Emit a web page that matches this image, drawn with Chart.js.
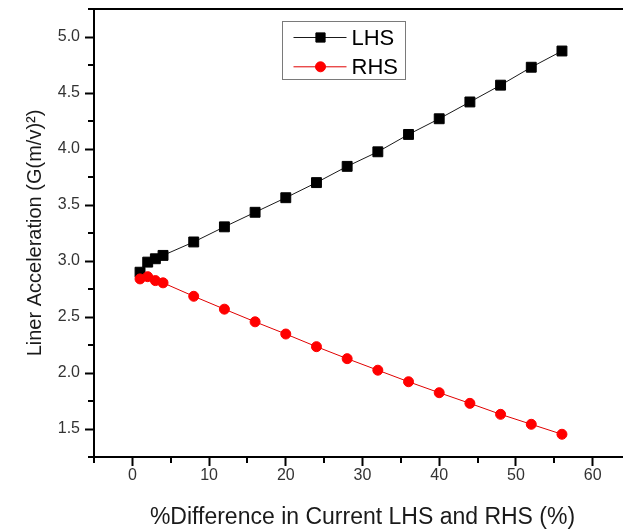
<!DOCTYPE html>
<html>
<head>
<meta charset="utf-8">
<script src="https://cdn.jsdelivr.net/npm/chart.js@4.4.1/dist/chart.umd.min.js"></script>
<style>
  html, body { margin: 0; padding: 0; background: #fff; overflow: hidden; width: 623px; height: 531px; }
  #wrap { position: relative; width: 631px; height: 531px; }
</style>
</head>
<body>
<div id="wrap"><canvas id="chart" width="631" height="531"></canvas></div>
<script>
// Current difference between the two sides (%)
const diffPercent = [1, 2, 3, 4, 8, 12, 16, 20, 24, 28, 32, 36, 40, 44, 48, 52, 56];
// Liner acceleration, left-hand side
const lhsAccel = [2.90, 2.99, 3.02, 3.05, 3.17, 3.305, 3.435, 3.565, 3.70, 3.845, 3.975, 4.13, 4.27, 4.42, 4.57, 4.73, 4.875];
// Liner acceleration, right-hand side
const rhsAccel = [2.84, 2.86, 2.825, 2.805, 2.685, 2.57, 2.457, 2.348, 2.235, 2.128, 2.025, 1.922, 1.824, 1.729, 1.631, 1.542, 1.453];

// Axis ticks
const xMajorTicks = [0, 10, 20, 30, 40, 50, 60];
const xMinorTicks = [-5, 5, 15, 25, 35, 45, 55, 65];
const yMajorTicks = [1.5, 2.0, 2.5, 3.0, 3.5, 4.0, 4.5, 5.0];
const yMinorTicks = [1.25, 1.75, 2.25, 2.75, 3.25, 3.75, 4.25, 4.75, 5.25];

const seriesNames = ['LHS', 'RHS'];
const FONT = "'Liberation Sans', Arial, sans-serif";

const toPoints = (ys) => diffPercent.map((x, i) => ({ x: x, y: ys[i] }));

// Minor tick marks and the top frame line
const framePlugin = {
  id: 'frame',
  afterDraw(chart) {
    const { ctx, chartArea, scales } = chart;
    ctx.save();
    ctx.strokeStyle = '#000';
    ctx.lineWidth = 2;
    ctx.beginPath();
    ctx.moveTo(chartArea.left - 6, chartArea.top);
    ctx.lineTo(chartArea.right, chartArea.top);
    ctx.stroke();
    ctx.beginPath();
    xMinorTicks.forEach(v => {
      const px = Math.round(scales.x.getPixelForValue(v));
      ctx.moveTo(px, chartArea.bottom);
      ctx.lineTo(px, chartArea.bottom + 6);
    });
    yMinorTicks.forEach(v => {
      const py = Math.round(scales.y.getPixelForValue(v));
      ctx.moveTo(chartArea.left, py);
      ctx.lineTo(chartArea.left - 6, py);
    });
    ctx.stroke();
    ctx.restore();
  }
};

// Boxed legend showing line + marker for each series
const boxLegendPlugin = {
  id: 'boxLegend',
  afterDatasetsDraw(chart) {
    const { ctx } = chart;
    const box = { left: 282.5, top: 21.5, width: 123, height: 58 };
    ctx.save();
    ctx.fillStyle = '#fff';
    ctx.fillRect(box.left, box.top, box.width, box.height);
    ctx.strokeStyle = '#7a7a7a';
    ctx.lineWidth = 1;
    ctx.strokeRect(box.left, box.top, box.width, box.height);
    seriesNames.forEach((name, i) => {
      const ds = chart.data.datasets.find(d => d.label === name);
      const y = box.top + 16 + i * 29.3;
      ctx.strokeStyle = ds.borderColor;
      ctx.lineWidth = 1;
      ctx.beginPath();
      ctx.moveTo(box.left + 11, y);
      ctx.lineTo(box.left + 64, y);
      ctx.stroke();
      ctx.fillStyle = ds.pointBackgroundColor;
      ctx.strokeStyle = ds.pointBorderColor;
      ctx.lineWidth = 1;
      Chart.helpers.drawPoint(ctx, {
        pointStyle: ds.pointStyle,
        radius: ds.pointStyle === 'rect' ? 6.5 : 5,
        borderWidth: 1,
        rotation: 0
      }, box.left + 38, y);
      ctx.fillStyle = '#000';
      ctx.font = '22px ' + FONT;
      ctx.textAlign = 'left';
      ctx.textBaseline = 'middle';
      ctx.fillText(name, box.left + 69, y + 1);
    });
    ctx.restore();
  }
};

new Chart(document.getElementById('chart'), {
  type: 'scatter',
  data: {
    datasets: [
      {
        label: seriesNames[0],
        data: toPoints(lhsAccel),
        showLine: true,
        borderColor: '#1a1a1a',
        borderWidth: 1,
        pointStyle: 'rect',
        pointRadius: 7,
        pointHoverRadius: 7,
        pointBackgroundColor: '#000',
        pointBorderColor: '#000',
        pointBorderWidth: 1,
        order: 1
      },
      {
        label: seriesNames[1],
        data: toPoints(rhsAccel),
        showLine: true,
        borderColor: '#e00000',
        borderWidth: 1,
        pointStyle: 'circle',
        pointRadius: 5,
        pointHoverRadius: 5,
        pointBackgroundColor: '#ff0000',
        pointBorderColor: '#ff0000',
        pointBorderWidth: 1,
        order: 0
      }
    ]
  },
  options: {
    responsive: false,
    maintainAspectRatio: false,
    animation: false,
    events: [],
    layout: { autoPadding: false, padding: { top: 9, left: 0, right: 0, bottom: 0 } },
    plugins: {
      legend: { display: false },
      tooltip: { enabled: false }
    },
    scales: {
      x: {
        type: 'linear',
        position: 'bottom',
        min: -5,
        max: 65,
        afterBuildTicks: (scale) => { scale.ticks = xMajorTicks.map(v => ({ value: v })); },
        afterFit: (scale) => { scale.height = 74; scale.paddingLeft = 0; scale.paddingRight = 0; },
        grid: { drawOnChartArea: false, drawTicks: true, tickLength: 9, tickWidth: 2, tickColor: '#000' },
        border: { display: true, color: '#000', width: 2 },
        ticks: {
          padding: 0,
          color: '#333',
          font: { family: FONT, size: 16 },
          callback: (v) => String(v)
        },
        title: {
          display: true,
          text: '%Difference in Current LHS and RHS (%)',
          color: '#1a1a1a',
          font: { family: FONT, size: 23 },
          padding: { top: 0, bottom: 0 }
        }
      },
      y: {
        type: 'linear',
        position: 'left',
        min: 1.25,
        max: 5.25,
        afterBuildTicks: (scale) => { scale.ticks = yMajorTicks.map(v => ({ value: v })); },
        afterFit: (scale) => { scale.width = 94; scale.paddingTop = 0; scale.paddingBottom = 0; },
        grid: { drawOnChartArea: false, drawTicks: true, tickLength: 9, tickWidth: 2, tickColor: '#000' },
        border: { display: true, color: '#000', width: 2 },
        ticks: {
          padding: 5,
          color: '#333',
          font: { family: FONT, size: 16 },
          callback: (v) => Number(v).toFixed(1)
        },
        title: {
          display: true,
          text: 'Liner Acceleration (G(m/v)²)',
          color: '#1a1a1a',
          font: { family: FONT, size: 20 },
          padding: { top: 23, bottom: 0 }
        }
      }
    }
  },
  plugins: [framePlugin, boxLegendPlugin]
});
</script>
</body>
</html>
